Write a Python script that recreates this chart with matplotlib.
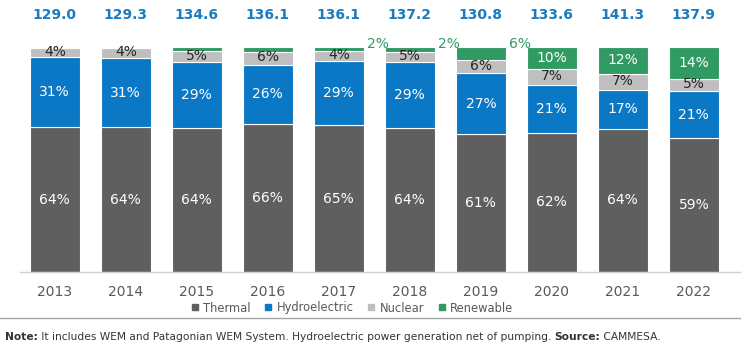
import matplotlib
matplotlib.use("Agg")
import matplotlib.pyplot as plt
from matplotlib.lines import Line2D

years = ["2013", "2014", "2015", "2016", "2017", "2018", "2019", "2020", "2021", "2022"]
totals = [129.0, 129.3, 134.6, 136.1, 136.1, 137.2, 130.8, 133.6, 141.3, 137.9]
thermal = [64.4, 64.3, 64.2, 65.8, 65.3, 64.0, 61.2, 61.9, 63.7, 59.4]
hydro = [31.0, 30.9, 29.2, 26.3, 28.6, 29.2, 27.2, 21.3, 17.1, 21.0]
nuclear = [4.3, 4.3, 4.9, 5.9, 4.4, 4.8, 6.0, 7.2, 7.3, 5.4]
renewable = [0.3, 0.5, 1.7, 2.0, 1.7, 2.0, 5.6, 9.6, 11.9, 14.2]
# renewable labels: inside / outside / none
ren_label_mode = ["none", "none", "none", "none", "out", "out", "out", "in", "in", "in"]

c_thermal = "#5f5f5f"
c_hydro = "#0a78c4"
c_nuclear = "#bfbfbf"
c_renew = "#2f9a62"
c_total = "#1a7bbf"

plt.rcParams['font.family'] = ['DejaVu Sans']

fig = plt.figure(figsize=(7.44, 3.5), dpi=100)
ax = fig.add_axes([20/744, 1-272/350, 720/744, 225/350])

x = list(range(len(years)))
w = 0.70
ec = "white"
lw = 0.8
ax.bar(x, thermal, w, color=c_thermal, edgecolor=ec, linewidth=lw)
b1 = [t for t in thermal]
ax.bar(x, hydro, w, bottom=b1, color=c_hydro, edgecolor=ec, linewidth=lw)
b2 = [t + h for t, h in zip(thermal, hydro)]
ax.bar(x, nuclear, w, bottom=b2, color=c_nuclear, edgecolor=ec, linewidth=lw)
b3 = [a + n for a, n in zip(b2, nuclear)]
ax.bar(x, renewable, w, bottom=b3, color=c_renew, edgecolor=ec, linewidth=lw)

fs = 10
for i in x:
    ax.text(i, thermal[i] / 2, f"{round(thermal[i])}%", ha="center", va="center",
            color="white", fontsize=fs)
    ax.text(i, b1[i] + hydro[i] / 2, f"{round(hydro[i])}%", ha="center", va="center",
            color="white", fontsize=fs)
    ax.text(i, b2[i] + nuclear[i] / 2 + 0.3, f"{round(nuclear[i])}%", ha="center", va="center",
            color="#262626", fontsize=fs)
    if ren_label_mode[i] == "in":
        ax.text(i, b3[i] + renewable[i] / 2, f"{round(renewable[i])}%", ha="center", va="center",
                color="white", fontsize=fs)
    elif ren_label_mode[i] == "out":
        ax.text(i + w / 2 + 0.04, 101.5, f"{round(renewable[i])}%", ha="left", va="center",
                color=c_renew, fontsize=fs, clip_on=False)
    ax.text(i, 114.2, f"{totals[i]:.1f}", ha="center", va="center", color=c_total,
            fontsize=10, fontweight="bold", clip_on=False)

ax.set_xlim(-0.49, 9.65)
ax.set_ylim(0, 100)
ax.set_xticks(x)
ax.set_xticklabels(years, fontsize=10, color="#595959")
ax.tick_params(axis="x", length=0, pad=9)
ax.set_yticks([])
for s in ["top", "right", "left"]:
    ax.spines[s].set_visible(False)
ax.spines["bottom"].set_color("#d0d0d0")
ax.spines["bottom"].set_linewidth(1.0)

handles = [Line2D([], [], marker="s", linestyle="none", markersize=4, color=c)
           for c in [c_thermal, c_hydro, c_nuclear, c_renew]]
fig.legend(handles, ["Thermal", "Hydroelectric", "Nuclear", "Renewable"],
           loc="center", bbox_to_anchor=(352/744, 1-308/350), ncol=4, frameon=False,
           fontsize=8.3, handletextpad=0.35, columnspacing=1.2, labelcolor="#595959",
           handlelength=0.7)

fig.add_artist(Line2D([0, 740/744], [1-318/350, 1-318/350], color="#a6a6a6", linewidth=1.0))

nfs = 7.7
parts = [("Note:", "bold"),
         (" It includes WEM and Patagonian WEM System. Hydroelectric power generation net of pumping. ", "normal"),
         ("Source:", "bold"),
         (" CAMMESA.", "normal")]
fig.canvas.draw()
renderer = fig.canvas.get_renderer()
x0 = 5
for txt, fw in parts:
    tt = fig.text(x0/744, 1-340/350, txt, fontsize=nfs, fontweight=fw, color="#333333",
                  va="baseline", ha="left")
    bb = tt.get_window_extent(renderer=renderer)
    x0 = bb.x1

fig.savefig("out.png", dpi=100)
